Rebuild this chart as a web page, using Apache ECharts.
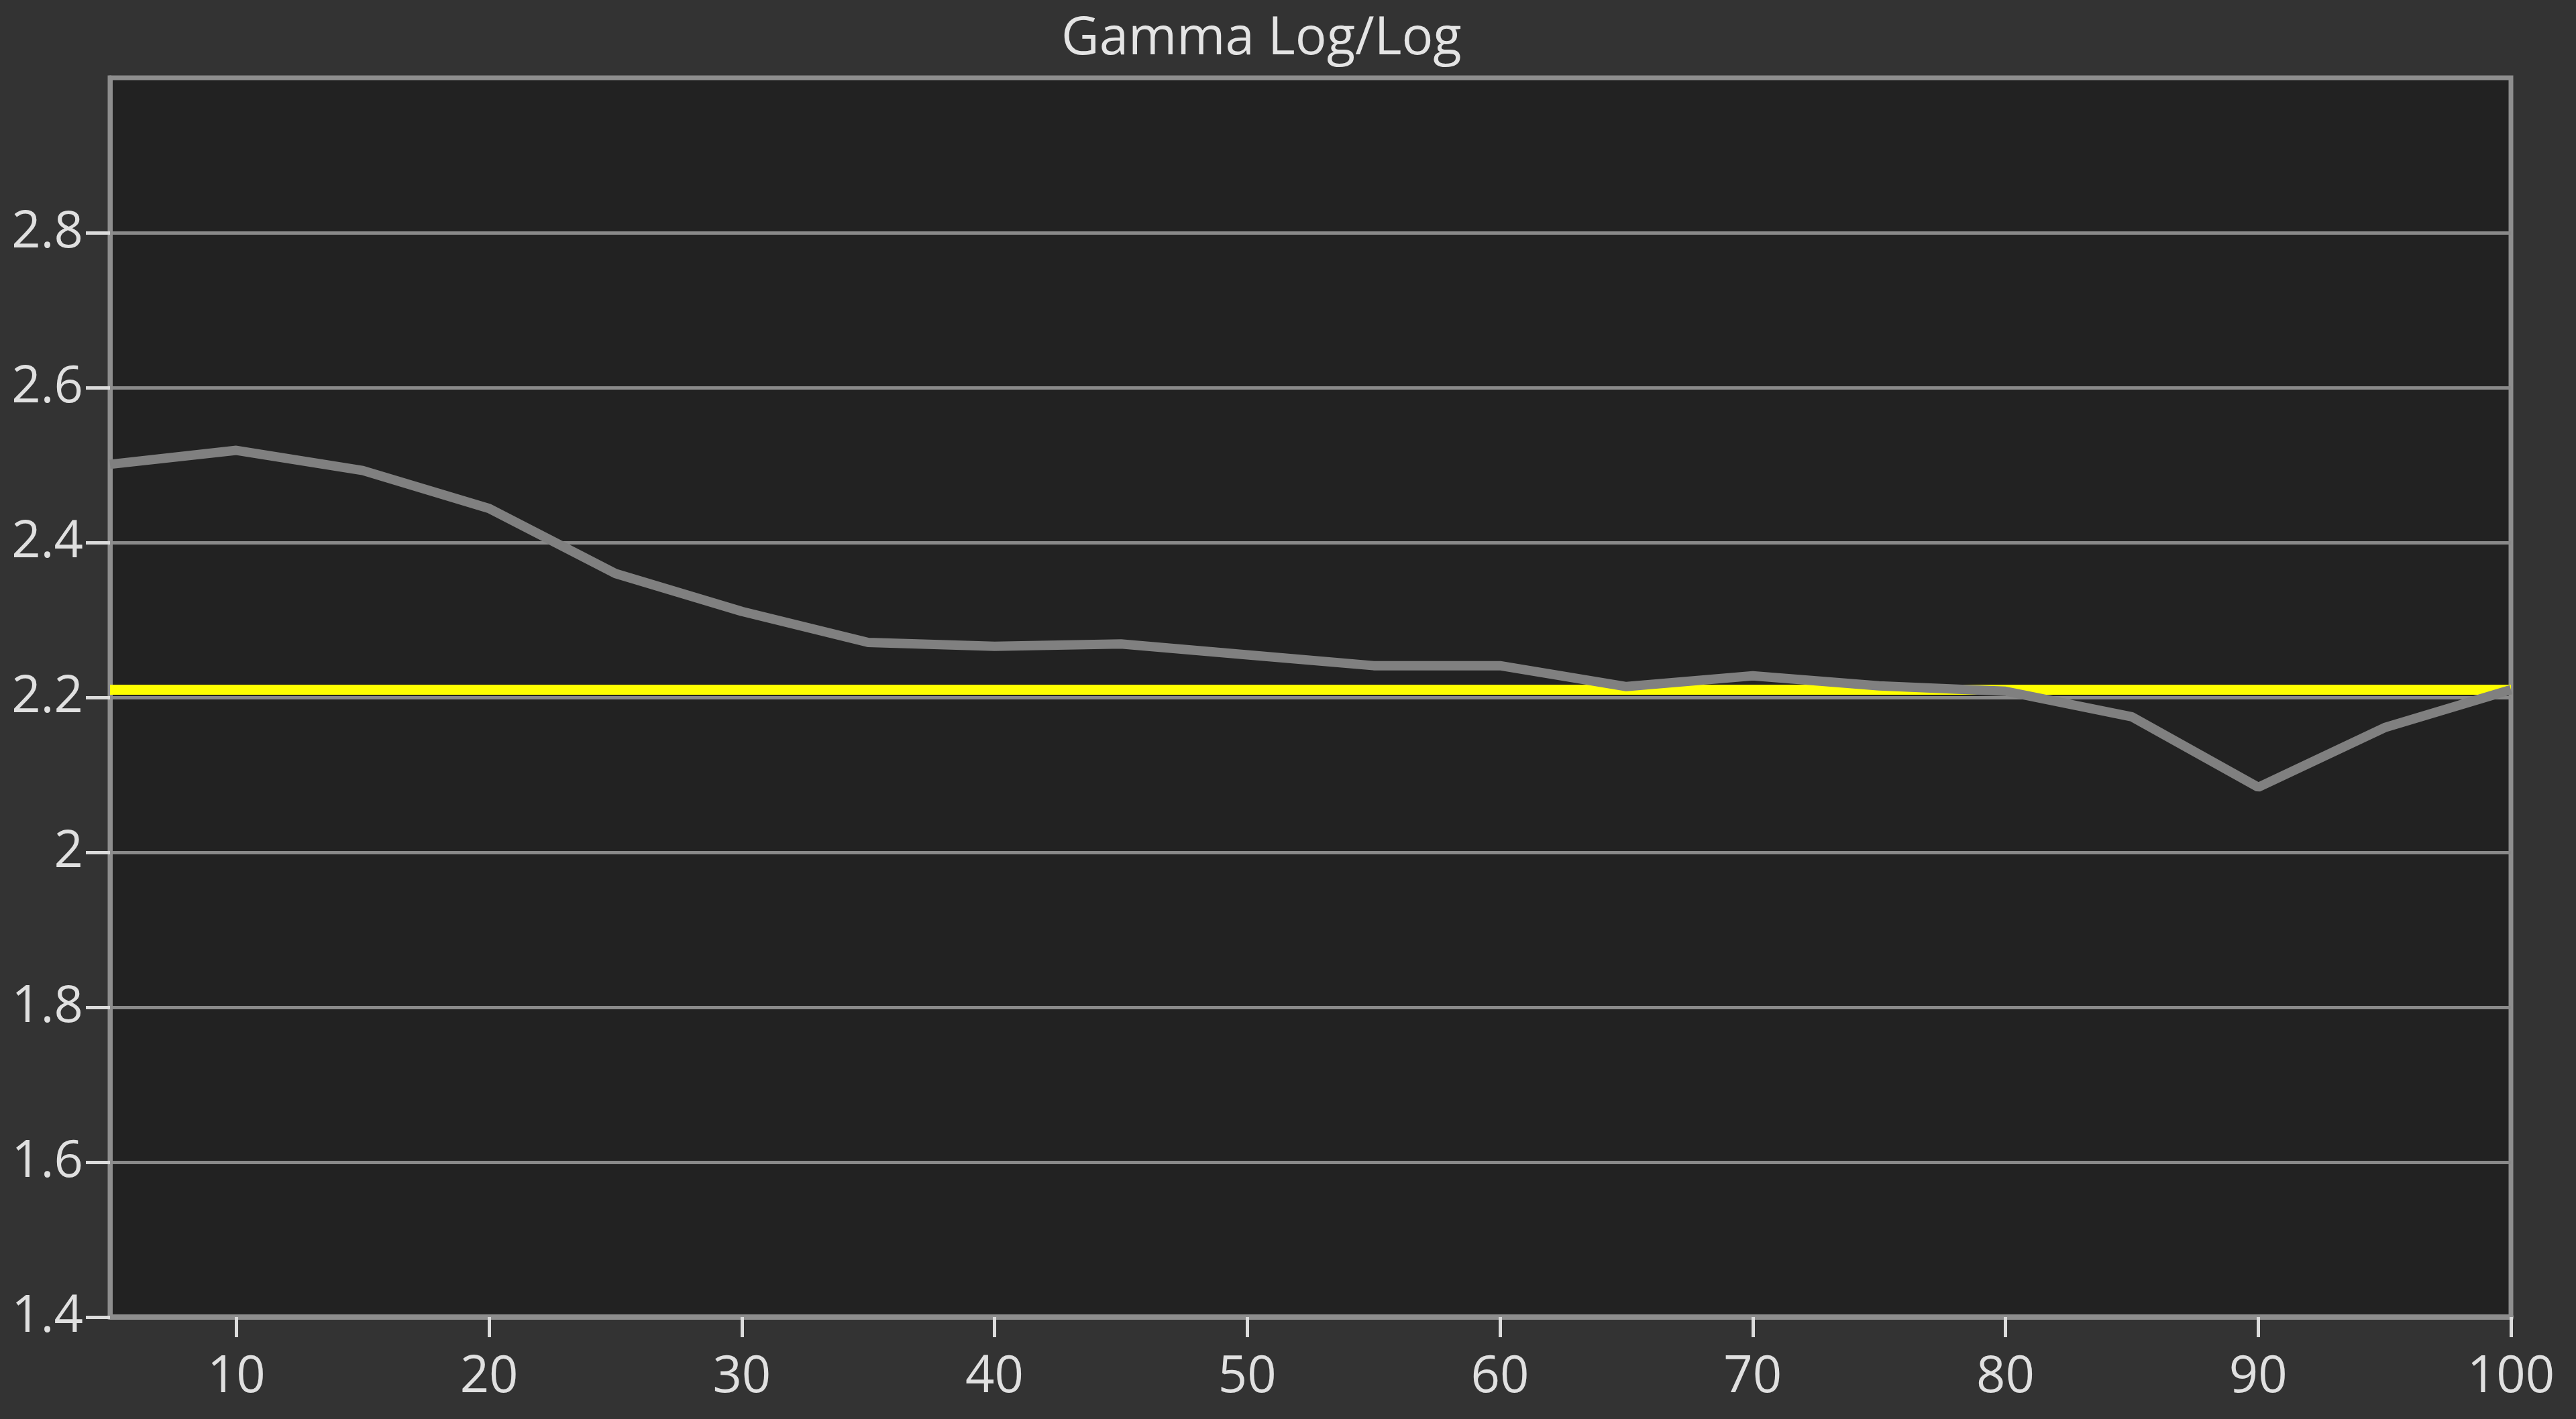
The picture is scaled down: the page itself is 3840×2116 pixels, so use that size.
<!DOCTYPE html>
<html>
<head>
<meta charset="utf-8">
<style>
html,body{margin:0;padding:0;background:#333333;}
#chart{width:3840px;height:2116px;}
</style>
<script src="https://cdn.jsdelivr.net/npm/echarts@6/dist/echarts.min.js"></script>
</head>
<body>
<div id="chart"></div>
<script>
// Data
const xValues = [5, 10, 15, 20, 25, 30, 35, 40, 45, 50, 55, 60, 65, 70, 75, 80, 85, 90, 95, 100];
const gammaValues = [2.501, 2.519, 2.493, 2.444, 2.360, 2.311, 2.271, 2.266, 2.269, 2.255, 2.241, 2.241, 2.214, 2.228, 2.215, 2.208, 2.175, 2.084, 2.161, 2.210];
const targetValues = [2.21, 2.21, 2.21, 2.21, 2.21, 2.21, 2.21, 2.21, 2.21, 2.21, 2.21, 2.21, 2.21, 2.21, 2.21, 2.21, 2.21, 2.21, 2.21, 2.21];
const xTickValues = [10, 20, 30, 40, 50, 60, 70, 80, 90, 100];
const yTickValues = [1.4, 1.6, 1.8, 2.0, 2.2, 2.4, 2.6, 2.8];
const titleText = 'Gamma Log/Log';

const chart = echarts.init(document.getElementById('chart'), null, {renderer: 'canvas'});
const font = '"Open Sans", "Noto Sans", sans-serif';
chart.setOption({
  backgroundColor: '#333333',
  animation: false,
  title: {
    text: titleText,
    left: 1582,
    top: 20,
    padding: 0,
    textStyle: {color: '#e4e4e4', fontFamily: font, fontSize: 78, fontWeight: 'normal'}
  },
  grid: {
    left: 164, right: 3840 - 3743, top: 116, bottom: 2116 - 1964,
    show: true, backgroundColor: '#222222', borderColor: '#8e8e8e', borderWidth: 7
  },
  xAxis: {
    type: 'value', min: 5, max: 100,
    axisLine: {show: true, lineStyle: {color: '#8e8e8e', width: 8}},
    axisTick: {show: true, customValues: xTickValues, length: 30, lineStyle: {color: '#dcdcdc', width: 5}},
    axisLabel: {show: true, customValues: xTickValues, margin: 52, color: '#e0e0e0', fontFamily: font, fontSize: 76,
      formatter: v => String(v)},
    splitLine: {show: false}
  },
  yAxis: {
    type: 'value', min: 1.4, max: 3.0, interval: 0.2,
    axisLine: {show: true, lineStyle: {color: '#8e8e8e', width: 7}},
    axisTick: {show: true, customValues: yTickValues, length: 36, lineStyle: {color: '#dcdcdc', width: 5}},
    axisLabel: {show: true, customValues: yTickValues, margin: 40, color: '#e0e0e0', fontFamily: font, fontSize: 76,
      formatter: v => String(+(+v).toFixed(1))},
    splitLine: {show: true, lineStyle: {color: '#8a8a8a', width: 5}}
  },
  series: [
    {
      name: 'Target', type: 'line', data: xValues.map((x, i) => [x, targetValues[i]]),
      symbol: 'none', lineStyle: {color: '#ffff00', width: 15}, z: 2
    },
    {
      name: 'Gamma', type: 'line', data: xValues.map((x, i) => [x, gammaValues[i]]),
      symbol: 'none', lineStyle: {color: '#808080', width: 14}, z: 3
    }
  ]
});
</script>
</body>
</html>
